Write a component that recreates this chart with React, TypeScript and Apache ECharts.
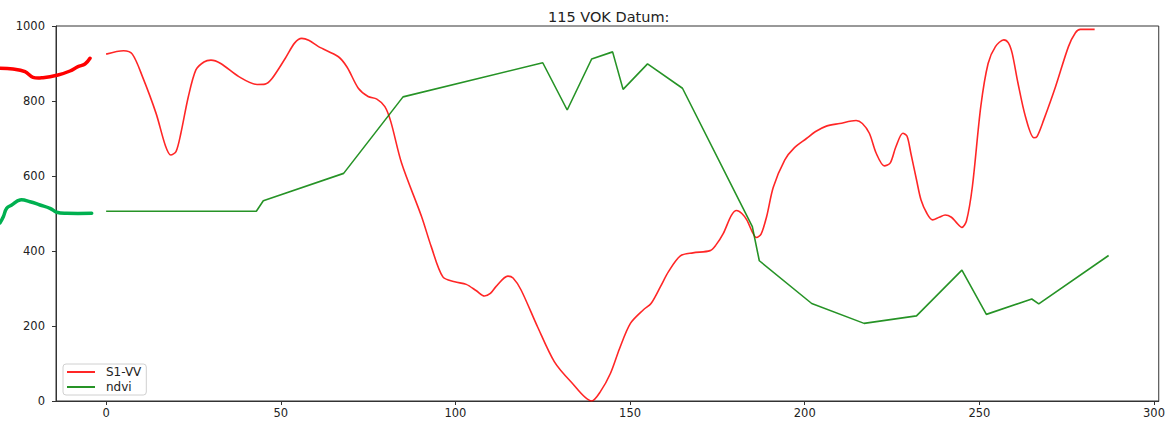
import React, { useEffect, useRef } from "react";
import * as echarts from "echarts";

// S1-VV (smooth red curve): [day, value]
const s1vv: [number, number][] = [
  [0, 925], [5, 934], [7.5, 925], [10.4, 865], [14.3, 767], [17, 680], [18.5, 656], [20, 665],
  [21.4, 714], [23.5, 810], [25.7, 883], [28, 904], [30, 909], [32.8, 900], [38, 865],
  [43.2, 844], [45.5, 845], [47.5, 860], [51.3, 914], [54, 955], [56, 967], [58, 962],
  [60.8, 945], [66.5, 918], [69, 890], [72.2, 834], [75, 812], [77.5, 805], [79.8, 785],
  [81.5, 745], [84.6, 634], [90.3, 492], [93.1, 411], [96.4, 331], [99.8, 318], [103.1, 311],
  [106, 294], [108.3, 280], [110, 287], [111.6, 305], [115, 333], [116.5, 328], [118.8, 296],
  [123.5, 198], [128.3, 105], [133, 52], [139, 0], [141.5, 25], [144.4, 74], [147, 140],
  [150.1, 207], [153.9, 244], [156, 260], [158.7, 305], [161, 345], [164.4, 387], [168, 395],
  [172.9, 401], [174.5, 415], [176.7, 447], [179, 495], [180.5, 508], [182, 500], [183.4, 483],
  [186.2, 436], [187.5, 445], [189.1, 492], [191, 570], [194.3, 643], [197, 675], [200.5, 700],
  [203, 718], [206.2, 733], [210, 740], [214.7, 748], [216.5, 740], [218.5, 714], [220.5, 660],
  [222.8, 627], [224.5, 635], [226.1, 678], [228.1, 714], [229.3, 706], [230.4, 660], [232, 590],
  [233.3, 536], [235, 500], [236.6, 483], [238.5, 490], [240.2, 496], [242, 490], [243.5, 475],
  [245, 463], [246.3, 480], [248, 572], [250.4, 785], [252.5, 900], [254.6, 945], [257, 963],
  [258.3, 955], [259.4, 927], [261, 850], [263.2, 758], [265.6, 702], [266.5, 705], [268.4, 749],
  [271.8, 838], [275.5, 945], [277.5, 982], [278.9, 991], [283, 991],
];

// ndvi (green polyline): [day, value]
const ndvi: [number, number][] = [
  [0, 506], [43, 506], [45, 534], [68, 607], [85, 811], [125, 902], [132, 776], [139, 912],
  [145, 931], [148, 831], [155, 899], [165, 834], [185, 465], [187, 374], [202, 260],
  [217, 207], [232, 227], [245, 349], [252, 231], [265, 272], [267, 259], [287, 388],
];

const xTicks = [0, 50, 100, 150, 200, 250, 300];
const yTicks = [0, 200, 400, 600, 800, 1000];
const titleText = "115 VOK Datum:";
const seriesNames = ["S1-VV", "ndvi"];

// hand-drawn annotation strokes on the left (page pixels)
const redStroke: number[][] = [
  [0, 68.3], [13, 69], [25, 71.7], [33, 77.3], [43, 77.7], [58, 75], [70, 71], [78, 66.7], [85, 64], [90, 58.3],
];
const greenStroke: number[][] = [
  [0, 223], [3.3, 216.7], [6.7, 208.3], [11.7, 205], [20, 200], [30, 201.7], [40, 205], [50, 208.3],
  [56.7, 212.3], [66.7, 213.3], [91.7, 213.3],
];

export default function App() {
  const ref = useRef<HTMLDivElement>(null);
  useEffect(() => {
    if (!ref.current) return;
    const chart = echarts.init(ref.current, undefined, { renderer: "svg" });
    const font = "'DejaVu Sans', sans-serif";
    const axisColor = "#333";
    chart.setOption({
      animation: false,
      backgroundColor: "#fff",
      title: {
        text: titleText,
        left: 543,
        top: 4,
        textStyle: { fontFamily: font, fontSize: 14.5, fontWeight: "normal", color: "#222" },
      },
      grid: {
        left: 56, right: 5, top: 26, bottom: 21,
        show: true, borderColor: axisColor, borderWidth: 1, backgroundColor: "transparent",
      },
      legend: {
        orient: "vertical",
        left: 63,
        top: 364,
        data: seriesNames,
        icon: "rect",
        itemWidth: 28,
        itemHeight: 2,
        itemGap: 3,
        padding: [2, 5, 2, 4],
        backgroundColor: "#fff",
        borderColor: "#d0d0d0",
        borderWidth: 1,
        borderRadius: 3,
        textStyle: { fontFamily: font, fontSize: 12, color: "#222", padding: [0, 0, 0, 6] },
      },
      xAxis: {
        type: "value",
        min: -14.35,
        max: 301.35,
        splitLine: { show: false },
        axisLine: { show: true, onZero: false, lineStyle: { color: axisColor, width: 1 } },
        axisTick: { show: true, length: 4, customValues: xTicks, lineStyle: { color: axisColor } },
        axisLabel: {
          customValues: xTicks, margin: 6, fontFamily: font, fontSize: 11.5, color: "#222",
          showMinLabel: true, showMaxLabel: true,
        },
      },
      yAxis: {
        type: "value",
        min: 0,
        max: 1000,
        interval: 200,
        splitLine: { show: false },
        axisLine: { show: true, onZero: false, lineStyle: { color: axisColor, width: 1 } },
        axisTick: { show: true, length: 4, lineStyle: { color: axisColor } },
        axisLabel: {
          margin: 11, fontFamily: font, fontSize: 11.5, color: "#222",
          formatter: (v: number) => (yTicks.includes(v) ? String(v) : ""),
        },
      },
      series: [
        {
          name: seriesNames[0],
          type: "line",
          data: s1vv,
          smooth: 0.3,
          showSymbol: false,
          clip: true,
          lineStyle: { color: "rgba(255,0,0,0.85)", width: 1.6 },
          itemStyle: { color: "rgba(255,0,0,0.85)" },
        },
        {
          name: seriesNames[1],
          type: "line",
          data: ndvi,
          showSymbol: false,
          lineStyle: { color: "rgba(0,128,0,0.85)", width: 1.6 },
          itemStyle: { color: "rgba(0,128,0,0.85)" },
        },
      ],
      graphic: [
        {
          type: "polyline",
          z: 100,
          shape: { points: redStroke, smooth: 0.4 },
          style: { stroke: "#ff0000", lineWidth: 3.5, fill: null, lineCap: "round", lineJoin: "round" },
        },
        {
          type: "polyline",
          z: 100,
          shape: { points: greenStroke, smooth: 0.4 },
          style: { stroke: "#00b050", lineWidth: 3.5, fill: null, lineCap: "round", lineJoin: "round" },
        },
      ],
    });
    return () => chart.dispose();
  }, []);
  return (
    <div
      ref={ref}
      style={{ position: "fixed", left: 0, top: 0, width: 1168, height: 422, background: "#fff" }}
    />
  );
}
